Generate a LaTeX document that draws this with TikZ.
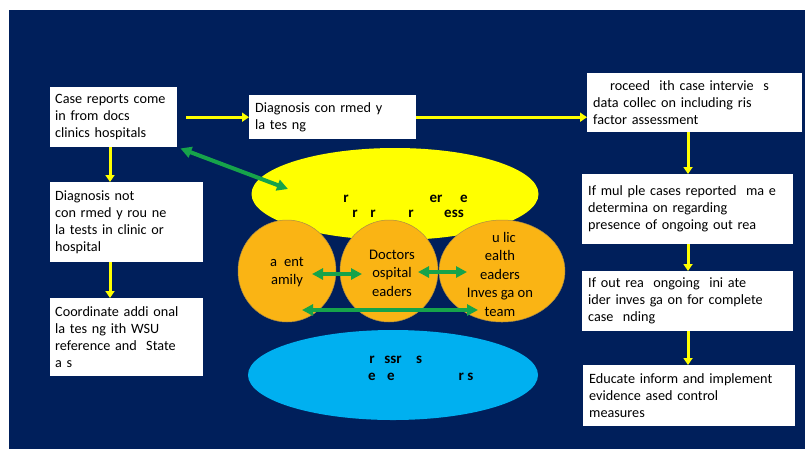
\documentclass[tikz,border=0pt]{standalone}
\usepackage{fontspec}
\setmainfont{Carlito}
\usetikzlibrary{arrows.meta,shapes.geometric,calc}

\definecolor{navy}{RGB}{0,31,91}
\definecolor{hlyellow}{RGB}{255,255,0}
\definecolor{amber}{RGB}{250,180,20}
\definecolor{amberedge}{RGB}{170,140,70}
\definecolor{skyblue}{RGB}{0,176,240}
\definecolor{linkgreen}{RGB}{22,163,74}

\begin{document}
\begin{tikzpicture}[x=1pt,y=-1pt,
  infobox/.style={fill=white, inner xsep=5pt, inner ysep=3pt, align=left,
    anchor=north west, font=\fontsize{14.2}{17}\selectfont},
  flow/.style={draw=hlyellow, line width=3pt, -{Triangle[length=7pt,width=9pt]}},
  link/.style={draw=linkgreen, line width=4pt,
    {Triangle[length=11pt,width=11pt]}-{Triangle[length=11pt,width=11pt]}},
  blob/.style={ellipse, inner sep=0pt},
  role/.style={draw=amberedge, line width=0.5pt, fill=amber, ellipse, inner sep=0pt},
  roletext/.style={align=center, font=\fontsize{14.6}{18.5}\selectfont, inner sep=0pt},
  frag/.style={anchor=base, inner sep=0pt, font=\bfseries\fontsize{15}{15}\selectfont}
]
\useasboundingbox (0,0) rectangle (810,451);
\fill[white] (0,0) rectangle (810,451);
\fill[navy] (9,10) rectangle (805,449);

% left column
\node[infobox, text width=117pt, minimum height=60pt] (report) at (50,87)
  {Case reports come\\in from docs\\clinics hospitals};
\node[infobox, text width=143pt, minimum height=80pt] (notconf) at (50,182)
  {Diagnosis not\\con rmed y rou ne\\la tests in clinic or\\hospital};
\node[infobox, text width=143pt, minimum height=78pt] (coord) at (50,298)
  {Coordinate addi onal\\la tes ng ith WSU\\reference and \ State\\a s};

% top middle
\node[infobox, text width=155pt, inner xsep=6pt, minimum height=44pt] (confirmed) at (249,95)
  {Diagnosis con rmed y\\la tes ng};

% right column
\node[infobox, text width=203pt, inner xsep=6pt, minimum height=59pt] (proceed) at (587,73)
  {\hspace*{17pt}roceed \ ith case intervie \ s\\data collec on including ris\\factor assessment};
\node[infobox, text width=199pt, inner xsep=6pt, minimum height=70pt] (multiple) at (582,174)
  {If mul ple cases reported \ ma e\\determina on regarding\\presence of ongoing out rea};
\node[infobox, text width=199pt, inner xsep=6pt, minimum height=60pt] (ongoing) at (582,271)
  {If out rea \ ongoing \ ini ate\\ider inves ga on for complete\\case \ nding};
\node[infobox, text width=200pt, inner xsep=6pt, minimum height=61pt] (educate) at (583,365)
  {Educate inform and implement\\evidence ased control\\measures};

% central groups
\node[blob, fill=hlyellow, minimum width=287pt, minimum height=92pt] (yellowgroup) at (395,194) {};
\node[blob, fill=skyblue, minimum width=290pt, minimum height=90pt] (bluegroup) at (393,375) {};

\node[role, minimum width=98pt, minimum height=102pt] (patient) at (287,271) {};
\node[role, minimum width=98pt, minimum height=102pt] (doctors) at (389,271) {};
\node[role, minimum width=126pt, minimum height=102pt] (public) at (502,271) {};

\node[roletext] (patienttext) at (287,272) {a\hspace{7pt}ent\\amily};
\node[roletext] (doctorstext) at (392,273) {Doctors\\ospital\\eaders};
\node[roletext] (publictext) at (500,274) {\hspace*{8pt}u lic\\ealth\\eaders\\Inves ga on\\team};

% text pieces inside the yellow group
\node[frag] (ya1) at (346,202) {r};
\node[frag] (ya2) at (436,202) {er};
\node[frag] (ya3) at (464,202) {e};
\node[frag] (yb1) at (355,217) {r};
\node[frag] (yb2) at (373,217) {r};
\node[frag] (yb3) at (411,217) {r};
\node[frag] (yb4) at (454,217) {ess};

% text pieces inside the blue group
\node[frag] (ba1) at (372,363) {r};
\node[frag] (ba2) at (393,363) {ssr};
\node[frag] (ba3) at (419,363) {s};
\node[frag] (bb1) at (372,380) {e};
\node[frag] (bb2) at (391,380) {e};
\node[frag] (bb3) at (466,380) {r s};

% flow arrows
\coordinate (colL) at (110,0);
\coordinate (colR) at (688,0);
\draw[flow, shorten <=9pt] (report.east) -- (confirmed.west);
\draw[flow] (confirmed.east) -- (confirmed.east -| proceed.west);
\draw[flow] (report.south -| colL) -- (notconf.north -| colL);
\draw[flow] (notconf.south -| colL) -- (coord.north -| colL);
\draw[flow] (proceed.south -| colR) -- (multiple.north -| colR);
\draw[flow] (multiple.south -| colR) -- (ongoing.north -| colR);
\draw[flow] (ongoing.south -| colR) -- (educate.north -| colR);

% two-way links
\coordinate (ytip) at (288,189);
\coordinate (pfA) at (312,274);
\coordinate (pfB) at (362,274);
\coordinate (dhA) at (418,272);
\coordinate (dhB) at (467,272);
\coordinate (ptA) at (302,310);
\coordinate (ptB) at (478,310);
\draw[link] ([shift={(3,1)}]report.south east) -- (ytip);
\draw[link] (pfA) -- (pfB);
\draw[link] (dhA) -- (dhB);
\draw[link] (ptA) -- (ptB);
\end{tikzpicture}
\end{document}
